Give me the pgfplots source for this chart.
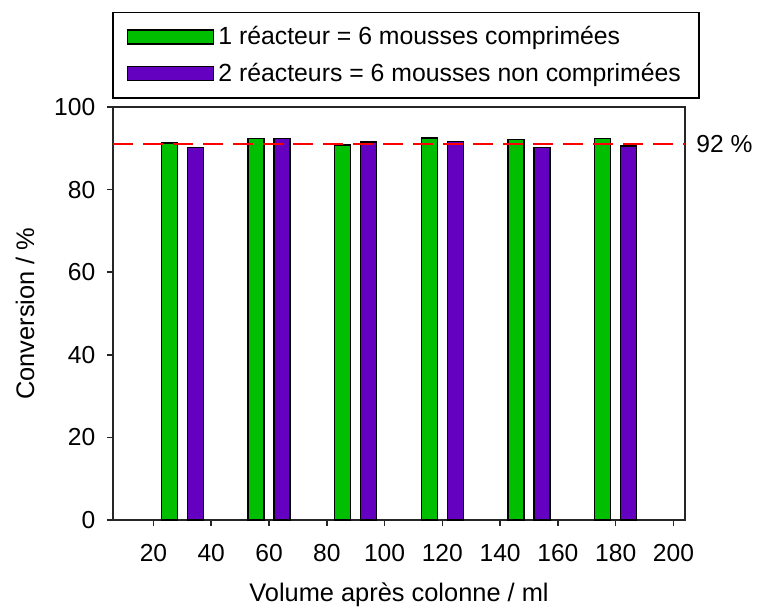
\documentclass[border=0pt]{standalone}
\usepackage{pgfplots}
\pgfplotsset{compat=1.18}
\usepackage{fontspec}
\setmainfont{Liberation Sans}
\definecolor{bargreen}{RGB}{0,190,0}
\definecolor{barpurple}{RGB}{100,0,192}
\newcommand{\tkfont}{\fontsize{12.3}{14}\selectfont}
\newcommand{\lbfont}{\fontsize{12.7}{15}\selectfont}
\begin{document}
\begin{tikzpicture}[x=1pt,y=1pt]
\useasboundingbox (0,0) rectangle (379,304);
\begin{axis}[
  at={(56.5pt,44pt)}, anchor=south west,
  scale only axis, width=286pt, height=206.5pt,
  xmin=6, xmax=204, ymin=0, ymax=100,
  xtick={20,40,...,200}, ytick={0,20,...,100},
  tick align=outside, tick pos=left, major tick length=3pt,
  axis line style={line width=0.9pt, black!85},
  every tick/.style={black!85, line width=0.8pt},
  /pgf/number format/assume math mode=true,
  xticklabel style={font=\tkfont, anchor=north, inner sep=0pt, yshift=-9pt},
  yticklabel style={font=\tkfont, anchor=east, inner sep=0pt, xshift=-5.7pt},
  every axis x label/.style={at={(axis description cs:0.5,0)}, yshift=-37.5pt, anchor=center, font=\lbfont},
  every axis y label/.style={at={(axis description cs:0,0.5)}, xshift=-44pt, rotate=90, anchor=center, font=\lbfont},
  xlabel={Volume après colonne / ml},
  ylabel={Conversion / \%},
  clip=false,
  legend style={at={(0,1)}, anchor=south west, xshift=-0.5pt, yshift=4pt,
    draw=black, line width=0.8pt, font=\fontsize{12.4}{14}\selectfont,
    inner xsep=7pt, inner ysep=5pt, row sep=3.5pt,
    cells={anchor=west}},
  legend image code/.code={\draw[#1, line width=0.8pt] (0pt,-3.5pt) rectangle (43pt,3.5pt);},
]
\addplot[ybar, bar width=5.5, bar shift=0pt, draw=black, line width=0.7pt, fill=bargreen]
  coordinates {(25.5,91.3) (55.5,92.3) (85.5,90.8) (115.5,92.5) (145.5,92.2) (175.5,92.3)};
\addlegendentry{1 réacteur = 6 mousses comprimées}
\addplot[ybar, bar width=5.5, bar shift=0pt, draw=black, line width=0.7pt, fill=barpurple]
  coordinates {(34.5,90.2) (64.5,92.3) (94.5,91.5) (124.5,91.7) (154.5,90.2) (184.5,90.6)};
\addlegendentry{2 réacteurs = 6 mousses non comprimées}
\addplot[red, line width=1pt, dash pattern=on 10pt off 5pt, forget plot]
  coordinates {(6,91) (204,91)};
\node[anchor=west, inner sep=0pt, font=\tkfont, xshift=5.5pt] at (axis cs:204,91) {92 \%};
\end{axis}
\end{tikzpicture}
\end{document}
